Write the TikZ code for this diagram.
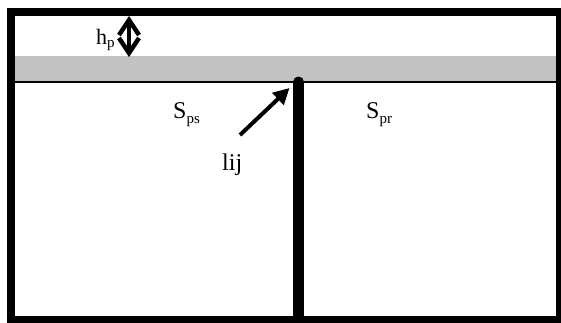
\documentclass[tikz,border=0pt]{standalone}
\usepackage{fontspec}
\setmainfont{Liberation Serif}
\usetikzlibrary{arrows.meta}
\begin{document}
\begin{tikzpicture}[x=1pt,y=-1pt,
  lbl/.style={inner sep=0pt, anchor=base west, font=\fontsize{24}{24}\selectfont},
  frameline/.style={line width=8pt},
  bandfill/.style={fill=gray!48},
  barb/.style={line width=4.5pt, {Straight Barb[length=15pt,width=20pt]}-{Straight Barb[length=15pt,width=20pt]}},
  pointer/.style={line width=4pt, -{Triangle[length=16pt,width=16pt]}}]
\useasboundingbox (0,0) rectangle (561,322);
\clip (0,0) rectangle (561,322);
\fill[white] (0,0) rectangle (561,322);
% gray band
\fill[bandfill] (15,56) rectangle (556,81);
\draw[line width=2pt] (15,82) -- (556,82);
% outer frame
\draw[frameline] (11,12) rectangle (560,320);
% divider wall
\coordinate (divTop) at (298.5,82);
\coordinate (divBot) at (298.5,330);
\draw[line width=11pt, line cap=round] (divTop) -- (divBot);
% h_p arrow
\coordinate (hpTop) at (129,16);
\coordinate (hpBot) at (129,57);
\draw[barb] (hpTop) -- (hpBot);
% lij arrow
\coordinate (lijTail) at (240,135);
\coordinate (lijTip) at (289.5,88);
\draw[pointer] (lijTail) -- (lijTip);
% labels
\node[lbl] (hp) at (96,44) {\fontsize{22}{22}\selectfont h\raisebox{-3pt}{\fontsize{15}{15}\selectfont p}};
\node[lbl] (sps) at (173,118) {S\raisebox{-5pt}{\fontsize{15}{15}\selectfont ps}};
\node[lbl] (spr) at (366,118) {S\raisebox{-5pt}{\fontsize{15}{15}\selectfont pr}};
\node[lbl] (lij) at (222,170) {lij};
\end{tikzpicture}
\end{document}
